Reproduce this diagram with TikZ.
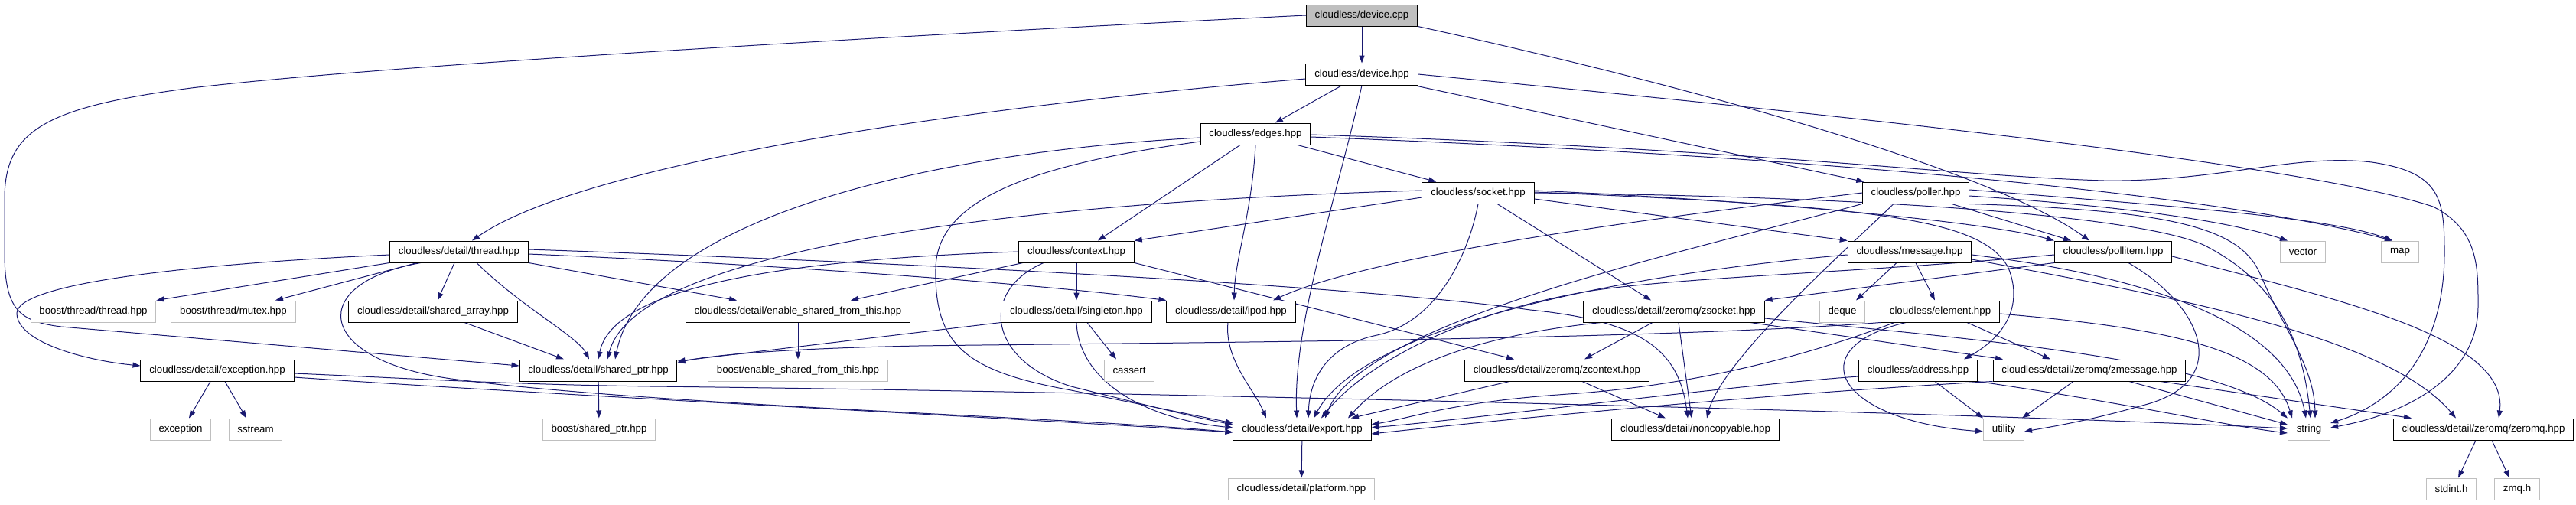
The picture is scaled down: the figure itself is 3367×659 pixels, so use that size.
\documentclass[tikz,border=0pt]{standalone}
\usepackage{fontspec}
\setmainfont{Liberation Sans}
\usepackage{tikz}
\usetikzlibrary{arrows.meta, backgrounds}
\definecolor{edgeblue}{HTML}{191970}
\definecolor{extgray}{HTML}{BFBFBF}

\begin{document}
\begin{tikzpicture}[x=1pt, y=-1pt,
        hdr/.style={rectangle, draw=black, line width=1pt, fill=white,
                    minimum height=28pt, inner xsep=11.3pt, inner ysep=0pt,
                    font=\fontsize{13.3}{15}\selectfont},
        sysh/.style={hdr, draw=extgray},
        root/.style={hdr, fill=extgray},
        arr/.style={-{Triangle[length=10pt,width=7pt]}, line width=1pt, edgeblue}
    ]
    \useasboundingbox (0,0) rectangle (3367,659);
    \node[root] (dcpp)     at (1780,20)  {cloudless/device.cpp};
    \node[hdr]  (dhpp)     at (1780,97)  {cloudless/device.hpp};
    \node[hdr]  (edges)    at (1641,175) {cloudless/edges.hpp};
    \node[hdr]  (socket)   at (1932,252) {cloudless/socket.hpp};
    \node[hdr]  (poller)   at (2504,252) {cloudless/poller.hpp};
    \node[hdr]  (thread)   at (600,329)  {cloudless/detail/thread.hpp};
    \node[hdr]  (context)  at (1407,329) {cloudless/context.hpp};
    \node[hdr]  (message)  at (2496,329) {cloudless/message.hpp};
    \node[hdr]  (pollitem) at (2762,329) {cloudless/pollitem.hpp};
    \node[sysh] (vector)   at (3010,329) {vector};
    \node[sysh] (map)      at (3137,329) {map};
    \node[sysh] (bthread)  at (122,407)  {boost/thread/thread.hpp};
    \node[sysh] (bmutex)   at (305,407)  {boost/thread/mutex.hpp};
    \node[hdr]  (sarray)   at (566,407)  {cloudless/detail/shared\_array.hpp};
    \node[hdr]  (esft)     at (1043,407) {cloudless/detail/enable\_shared\_from\_this.hpp};
    \node[hdr]  (singleton) at (1407,407) {cloudless/detail/singleton.hpp};
    \node[hdr]  (ipod)     at (1609,407) {cloudless/detail/ipod.hpp};
    \node[hdr]  (zsocket)  at (2188,407) {cloudless/detail/zeromq/zsocket.hpp};
    \node[sysh] (deque)    at (2408,407) {deque};
    \node[hdr]  (element)  at (2536,407) {cloudless/element.hpp};
    \node[hdr]  (exch)     at (284,484)  {cloudless/detail/exception.hpp};
    \node[hdr]  (sptr)     at (782,484)  {cloudless/detail/shared\_ptr.hpp};
    \node[sysh] (besft)    at (1043,484) {boost/enable\_shared\_from\_this.hpp};
    \node[sysh] (cassert)  at (1476,484) {cassert};
    \node[hdr]  (zcontext) at (2035,484) {cloudless/detail/zeromq/zcontext.hpp};
    \node[hdr]  (address)  at (2507,484) {cloudless/address.hpp};
    \node[hdr]  (zmessage) at (2731,484) {cloudless/detail/zeromq/zmessage.hpp};
    \node[sysh] (exc)      at (236,561)  {exception};
    \node[sysh] (sstream)  at (334,561)  {sstream};
    \node[sysh] (bsptr)    at (783,561)  {boost/shared\_ptr.hpp};
    \node[hdr]  (export)   at (1702,561) {cloudless/detail/export.hpp};
    \node[hdr]  (noncopy)  at (2216,561) {cloudless/detail/noncopyable.hpp};
    \node[sysh] (utility)  at (2619,561) {utility};
    \node[sysh] (string)   at (3018,561) {string};
    \node[hdr]  (zeromq)   at (3246,561) {cloudless/detail/zeromq/zeromq.hpp};
    \node[sysh] (platform) at (1701,639) {cloudless/detail/platform.hpp};
    \node[sysh] (stdint)   at (3204,639) {stdint.h};
    \node[sysh] (zmq)      at (3290,639) {zmq.h};
    \begin{scope}[on background layer]
    \draw[arr] (dcpp) -- (dhpp);
    \draw[arr] (dcpp.west) .. controls (1200,45) and (500,85) .. (250,115) .. controls (60,140) and (6,170) .. (6,260) -- (6,330) .. controls (6,405) and (25,420) .. (80,427) -- ([yshift=6pt]sptr.west);
    \draw[arr] (dcpp.south east) .. controls (2200,110) and (2600,220) .. ([xshift=-31pt]pollitem.north);
    \draw[arr] (dhpp) -- (edges);
    \draw[arr] ([yshift=-6pt]dhpp.west) .. controls (1250,140) and (760,215) .. ([xshift=17pt]thread.north);
    \draw[arr] (dhpp.south) .. controls (1750,250) and (1690,420) .. ([xshift=-7pt]export.north);
    \draw[arr] (dhpp) -- (poller);
    \draw[arr] (dhpp.east) .. controls (2300,140) and (3000,210) .. (3180,270) .. controls (3240,300) and (3239,350) .. (3239,400) .. controls (3239,490) and (3150,540) .. ([yshift=2pt]string.east);
    \draw[arr] ([yshift=-5pt]edges.west) .. controls (1200,200) and (840,290) .. ([xshift=22pt]sptr.north);
    \draw[arr] ([yshift=-10pt]edges.west) .. controls (1350,215) and (1225,260) .. (1223,350) .. controls (1221,450) and (1260,485) .. (1400,510) -- ([yshift=8pt]export.west);
    \draw[arr] ([xshift=-20pt]edges.south) -- ([xshift=28pt]context.north);
    \draw[arr] (edges.south) .. controls (1636,280) and (1614,340) .. ([xshift=4pt]ipod.north);
    \draw[arr] (edges) -- (socket);
    \draw[arr] ([yshift=-4pt]edges.east) .. controls (2400,205) and (2900,255) .. ([xshift=-10pt]map.north);
    \draw[arr] ([yshift=-1pt]edges.east) .. controls (2300,195) and (2550,230) .. (2750,236) .. controls (2900,238) and (3000,200) .. (3100,212) .. controls (3190,225) and (3195,260) .. (3195,330) .. controls (3195,470) and (3120,530) .. ([yshift=8pt]string.east);
    \draw[arr] ([yshift=-6pt]socket.west) -- (context.north east);
    \draw[arr] ([yshift=3pt]socket.west) .. controls (1300,265) and (830,330) .. ([xshift=12pt]sptr.north);
    \draw[arr] (socket.south) .. controls (1920,330) and (1880,420) .. (1800,438) .. controls (1740,450) and (1712,490) .. ([xshift=8pt]export.north);
    \draw[arr] ([xshift=25pt]socket.south) -- ([xshift=-30pt]zsocket.north);
    \draw[arr] ([yshift=-8pt]socket.east) -- (message.north west);
    \draw[arr] ([yshift=3pt]socket.east) .. controls (2300,262) and (2600,290) .. (pollitem.north west);
    \draw[arr] ([yshift=1pt]socket.east) .. controls (2450,270) and (2590,285) .. (2625,350) .. controls (2645,400) and (2620,440) .. ([xshift=60pt]address.north);
    \draw[arr] (socket.east) .. controls (2500,258) and (2800,285) .. (2880,320) .. controls (2980,370) and (3010,450) .. ([xshift=2pt]string.north);
    \draw[arr] ([xshift=47pt]poller.south) -- ([xshift=-55pt]pollitem.north);
    \draw[arr] ([yshift=-4pt]poller.east) .. controls (2750,268) and (2900,285) .. ([xshift=-20pt]vector.north);
    \draw[arr] ([yshift=4pt]poller.east) .. controls (2850,270) and (3050,285) .. ([xshift=-10pt]map.north);
    \draw[arr] (poller.south east) .. controls (2850,275) and (2930,300) .. (2955,360) .. controls (2985,430) and (3025,480) .. ([xshift=8pt]string.north);
    \draw[arr] (poller.west) .. controls (2200,280) and (1800,330) .. ([xshift=55pt]ipod.north);
    \draw[arr] (poller.south west) .. controls (2200,330) and (1780,420) .. ([xshift=30pt]export.north);
    \draw[arr] ([xshift=-29pt]poller.south) .. controls (2420,320) and (2250,470) .. ([xshift=15pt]noncopy.north);
    \draw[arr] (thread.south west) -- (bthread.north east);
    \draw[arr] ([xshift=-55pt]thread.south) -- ([xshift=55pt]bmutex.north);
    \draw[arr] ([xshift=-6pt]thread.south) -- ([xshift=6pt]sarray.north);
    \draw[arr] ([xshift=23pt]thread.south) .. controls (680,400) and (755,440) .. ([xshift=-12pt]sptr.north);
    \draw[arr] ([yshift=-4pt]thread.west) .. controls (250,345) and (20,370) .. (22,410) .. controls (24,450) and (120,472) .. ([yshift=6pt]exch.west);
    \draw[arr] (thread.south east) -- ([xshift=-80pt]esft.north);
    \draw[arr] ([yshift=-3pt]thread.east) .. controls (1000,345) and (1350,370) .. (ipod.north west);
    \draw[arr] ([yshift=3pt]thread.east) .. controls (1100,340) and (1750,370) .. (2000,405) .. controls (2150,420) and (2195,460) .. ([xshift=-10pt]noncopy.north);
    \draw[arr] ([xshift=-50pt]thread.south) .. controls (400,370) and (410,470) .. (590,495) .. controls (850,530) and (1400,545) .. ([yshift=-4pt]export.west);
    \draw[arr] (context.west) .. controls (1000,340) and (800,380) .. (sptr.north);
    \draw[arr] ([xshift=-70pt]context.south) -- ([xshift=69pt]esft.north);
    \draw[arr] ([xshift=-43pt]context.south) .. controls (1280,380) and (1290,470) .. (1400,505) .. controls (1500,530) and (1560,545) .. ([yshift=6pt]export.west);
    \draw[arr] (context) -- (singleton);
    \draw[arr] (context.south east) -- ([xshift=-56pt]zcontext.north);
    \draw[arr] ([xshift=-17pt]message.south) -- ([xshift=18pt]deque.north);
    \draw[arr] ([xshift=8pt]message.south) -- ([xshift=-7pt]element.north);
    \draw[arr] ([yshift=-4pt]message.west) .. controls (2100,360) and (1780,430) .. ([xshift=15pt]export.north);
    \draw[arr] ([yshift=-4pt]message.east) .. controls (2800,360) and (2990,420) .. ([xshift=-4pt]string.north);
    \draw[arr] ([yshift=-10pt]message.east) .. controls (2850,390) and (3120,440) .. ([xshift=-36pt]zeromq.north);
    \draw[arr] (pollitem.south west) -- (zsocket.north east);
    \draw[arr] ([yshift=-4pt]pollitem.west) .. controls (2450,355) and (2200,362) .. (2080,380) .. controls (1900,410) and (1780,480) .. ([xshift=25pt]export.north);
    \draw[arr] ([xshift=20pt]pollitem.south) .. controls (2880,400) and (2920,500) .. (2800,530) .. controls (2730,550) and (2680,558) .. ([yshift=-3pt]utility.east);
    \draw[arr] ([yshift=-6pt]pollitem.east) .. controls (3050,390) and (3280,440) .. ([xshift=20pt]zeromq.north);
    \draw[arr] ([xshift=41pt]sarray.south) -- ([xshift=-45pt]sptr.north);
    \draw[arr] (esft) -- (besft);
    \draw[arr] (singleton.south west) -- ([yshift=12pt]sptr.east);
    \draw[arr] ([xshift=14pt]singleton.south) -- ([xshift=-17pt]cassert.north);
    \draw[arr] (singleton.south) .. controls (1410,500) and (1500,548) .. ([yshift=2pt]export.west);
    \draw[arr] ([xshift=-4pt]ipod.south) .. controls (1600,470) and (1640,510) .. ([xshift=-47pt]export.north);
    \draw[arr] ([xshift=-95pt]zsocket.south) .. controls (1960,435) and (1830,470) .. ([xshift=60pt]export.north);
    \draw[arr] ([xshift=-28pt]zsocket.south) -- ([xshift=36pt]zcontext.north);
    \draw[arr] ([xshift=6pt]zsocket.south) -- ([xshift=-5pt]noncopy.north);
    \draw[arr] ([xshift=100pt]zsocket.south) -- ([xshift=-113pt]zmessage.north);
    \draw[arr] ([yshift=-9pt]zsocket.east) .. controls (2600,445) and (2900,470) .. (string.north west);
    \draw[arr] (element.south west) .. controls (2150,445) and (1500,448) .. (1200,452) .. controls (1000,456) and (920,466) .. ([yshift=10pt]sptr.east);
    \draw[arr] ([xshift=-60pt]element.south) .. controls (2350,470) and (2200,505) .. (2050,515) .. controls (1900,525) and (1850,545) .. ([yshift=6pt]export.east);
    \draw[arr] ([xshift=-45pt]element.south) .. controls (2350,455) and (2400,550) .. ([yshift=-3pt]utility.west);
    \draw[arr] ([xshift=35pt]element.south) -- ([xshift=-51pt]zmessage.north);
    \draw[arr] ([yshift=-3pt]element.east) .. controls (2850,430) and (2970,460) .. ([xshift=-22pt]string.north);
    \draw[arr] ([xshift=-9pt]exch.south) -- ([xshift=11pt]exc.north);
    \draw[arr] ([xshift=10pt]exch.south) -- ([xshift=-12pt]sstream.north);
    \draw[arr] ([yshift=-9pt]exch.east) .. controls (700,515) and (1300,545) .. ([yshift=-4pt]export.west);
    \draw[arr] ([yshift=-4pt]exch.east) .. controls (550,495) and (650,502) .. (850,505) .. controls (1500,512) and (2600,540) .. ([yshift=1pt]string.west);
    \draw[arr] (sptr) -- (bsptr);
    \draw[arr] ([xshift=-62pt]zcontext.south) -- ([xshift=64pt]export.north);
    \draw[arr] ([xshift=33pt]zcontext.south) -- ([xshift=-39pt]noncopy.north);
    \draw[arr] ([yshift=-8pt]address.west) .. controls (2250,505) and (1950,545) .. ([yshift=2pt]export.east);
    \draw[arr] ([xshift=22pt]address.south) -- ([xshift=-27pt]utility.north);
    \draw[arr] (address.south east) .. controls (2800,530) and (2900,555) .. ([yshift=-5pt]string.west);
    \draw[arr] (zmessage.south west) .. controls (2300,515) and (1950,550) .. ([yshift=-6pt]export.east);
    \draw[arr] ([xshift=-21pt]zmessage.south) -- ([xshift=24pt]utility.north);
    \draw[arr] ([xshift=52pt]zmessage.south) -- ([yshift=6pt]string.west);
    \draw[arr] ([xshift=93pt]zmessage.south) -- ([xshift=-94pt]zeromq.north);
    \draw[arr] (export) -- (platform);
    \draw[arr] ([xshift=-10pt]zeromq.south) -- ([xshift=9pt]stdint.north);
    \draw[arr] ([xshift=11pt]zeromq.south) -- ([xshift=-10pt]zmq.north);
    \end{scope}
\end{tikzpicture}
\end{document}
